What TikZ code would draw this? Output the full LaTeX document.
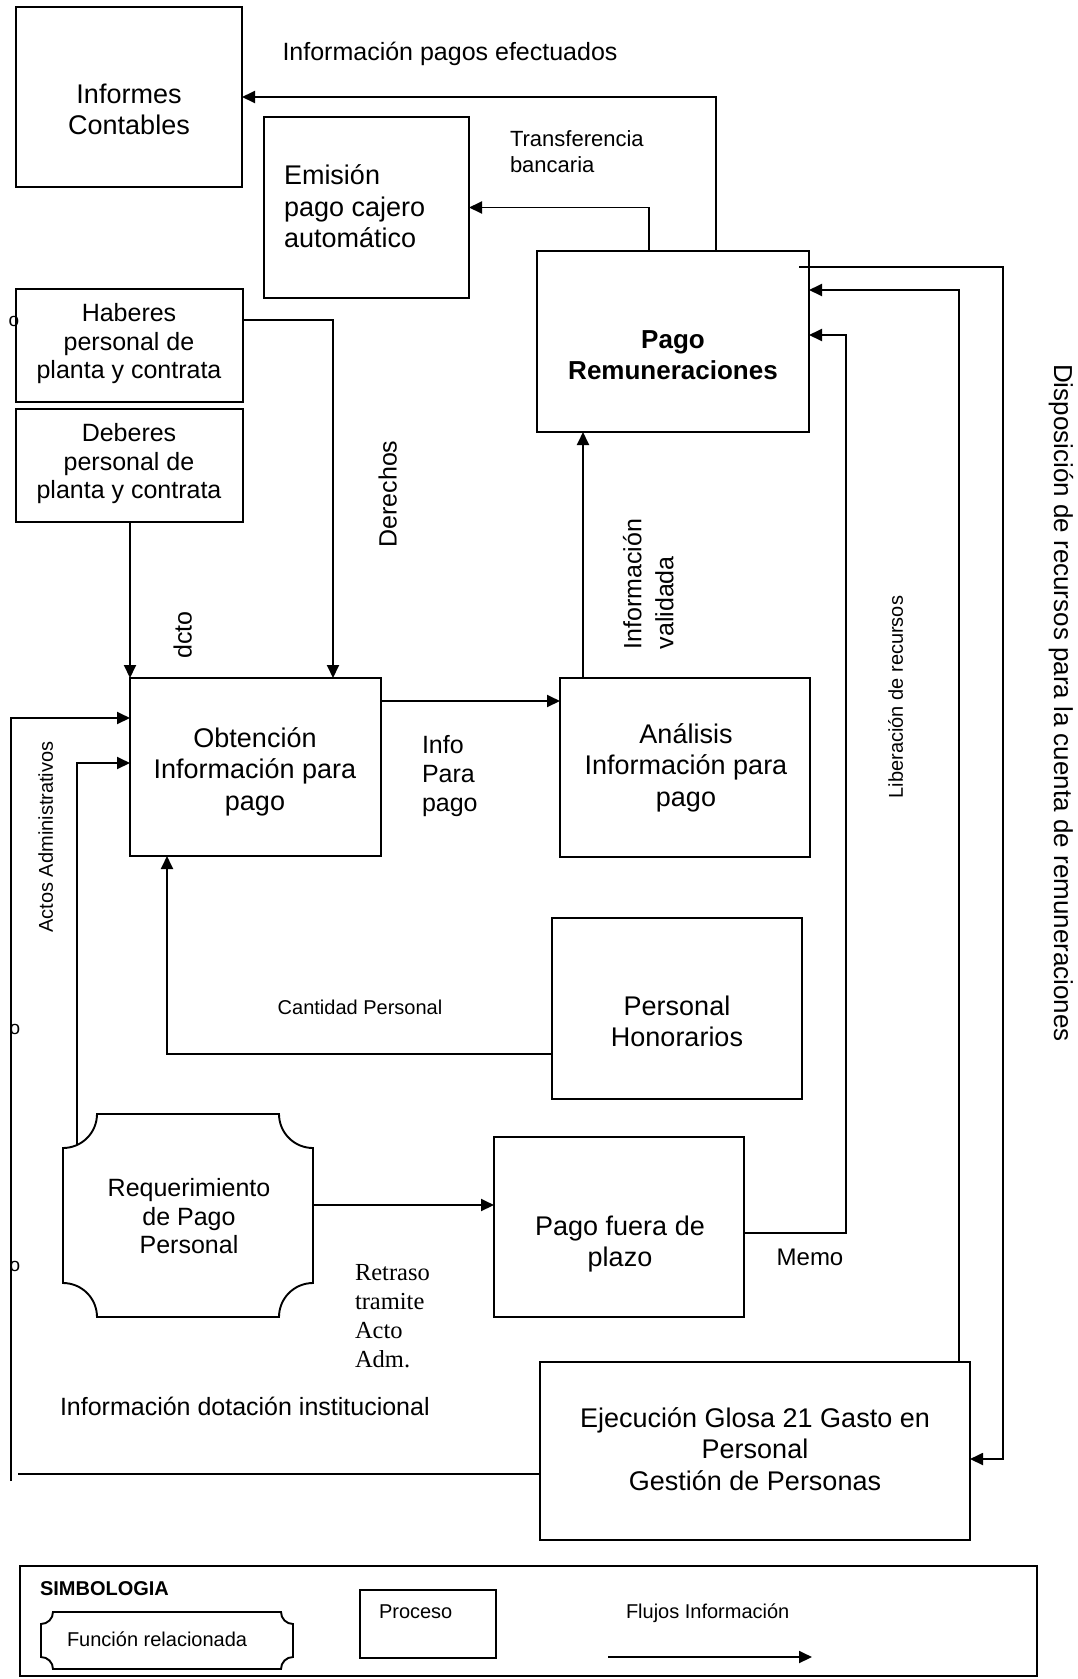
\documentclass[tikz,border=0pt]{standalone}
\usepackage{fontspec}
\setmainfont{Liberation Sans}
\newfontfamily\serifrm{Liberation Serif}
\usetikzlibrary{arrows.meta}

% outline with concave quarter-circle corners, drawn on the box of a node
\newcommand\funcoutline[2]{%
  \draw[flowline] ([xshift=#2]#1.north west) -- ([xshift=-#2]#1.north east)
    arc[start angle=180,end angle=270,radius=#2]
    -- ([yshift=#2]#1.south east)
    arc[start angle=90,end angle=180,radius=#2]
    -- ([xshift=#2]#1.south west)
    arc[start angle=0,end angle=90,radius=#2]
    -- ([yshift=-#2]#1.north west)
    arc[start angle=270,end angle=360,radius=#2]
    -- cycle;}

\tikzset{
  flowline/.style={line width=1.9pt, line join=miter},
  flowarrow/.style={flowline, -{Triangle[length=13pt,width=12pt]}},
  procbox/.style={draw, line width=1.9pt, inner sep=0pt, outer sep=0pt},
  ghostbox/.style={inner sep=0pt, outer sep=0pt},
  txt/.style={inner sep=0pt, outer sep=0pt, align=center,
    execute at begin node=\strut, execute at end node=\strut},
  fbig/.style={font=\fontsize{27}{31.5}\selectfont},
  fmed/.style={font=\fontsize{25}{28.5}\selectfont},
  fsmall/.style={font=\fontsize{20}{24}\selectfont},
  fmark/.style={font=\fontsize{19}{22}\selectfont},
}

\begin{document}
\begin{tikzpicture}[x=1pt,y=-1pt]
\useasboundingbox (0,0) rectangle (1077,1679);
\fill[white] (0,0) rectangle (1077,1679);

% ---------- boxes ----------
\node[procbox, minimum width=226pt, minimum height=180pt] (inf) at (129,97) {};
\node[procbox, minimum width=205pt, minimum height=181pt] (emi) at (366.5,207.5) {};
\node[procbox, minimum width=227pt, minimum height=113pt] (hab) at (129.5,345.5) {};
\node[procbox, minimum width=227pt, minimum height=113pt] (deb) at (129.5,465.5) {};
\node[procbox, minimum width=251pt, minimum height=178pt] (obt) at (255.5,767) {};
\node[procbox, minimum width=272pt, minimum height=181pt] (pag) at (673,341.5) {};
\node[procbox, minimum width=250pt, minimum height=179pt] (ana) at (685,767.5) {};
\node[procbox, minimum width=250pt, minimum height=181pt] (hon) at (677,1008.5) {};
\node[ghostbox, minimum width=250pt, minimum height=203pt] (req) at (188,1215.5) {};
\funcoutline{req}{34pt}
\node[procbox, minimum width=250pt, minimum height=180pt] (pfp) at (619,1227) {};
\node[procbox, minimum width=430pt, minimum height=178pt] (eje) at (755,1451) {};

% ---------- box texts ----------
\node[txt, fbig] (inf-t) at (129,114) {Informes\\Contables};
\node[txt, fbig, align=left, anchor=west] (emi-t) at (284,211) {Emisión\\pago cajero\\automático};
\node[txt, fmed] (hab-t) at (129,345.5) {Haberes\\personal de\\planta y contrata};
\node[txt, fmed] (deb-t) at (129,465.5) {Deberes\\personal de\\planta y contrata};
\node[txt, fbig] (obt-t) at (255,773.5) {Obtención\\Información para\\pago};
\node[txt, font={\fontsize{26}{31}\selectfont\bfseries}] (pag-t) at (673,359.5) {Pago\\Remuneraciones};
\node[txt, fbig] (ana-t) at (686,769.5) {Análisis\\Información para\\pago};
\node[txt, fbig] (hon-t) at (677,1026) {Personal\\Honorarios};
\node[txt, fmed] (req-t) at (189,1220.5) {Requerimiento\\de Pago\\Personal};
\node[txt, fbig] (pfp-t) at (620,1246) {Pago fuera de\\plazo};
\node[txt, fbig] (eje-t) at (755,1453.5) {Ejecución Glosa 21 Gasto en\\Personal\\Gestión de Personas};

% ---------- flows ----------
\draw[flowarrow] ([xshift=43pt]pag.north) |- (inf.east);
\draw[flowarrow] ([xshift=-24pt]pag.north) |- (emi.east);
\draw[flowarrow] ([yshift=25.5pt]hab.east) -| ([xshift=77.5pt]obt.north);
\draw[flowarrow] (obt.north west |- deb.south) -- (obt.north west);
\draw[flowarrow] ([yshift=66pt]obt.east) -- ([yshift=66pt]obt.east -| ana.west);
\draw[flowarrow] ([xshift=-102pt]ana.north) -- ([xshift=-102pt]ana.north |- pag.south);
\draw[flowarrow] ([yshift=-45.5pt]hon.west) -| ([xshift=-88.5pt]obt.south);
\draw[flowarrow] ([yshift=10.5pt]req.east) -- ([yshift=10.5pt]req.east -| pfp.west);
\coordinate (actos-start) at (77,1145);
\draw[flowarrow] (actos-start) |- ([yshift=4pt]obt.west);
\coordinate (dot-end) at (18,1474);
\draw[flowline] ([yshift=-23pt]eje.west) -- (dot-end);
\coordinate (dot-start) at (11,1481);
\draw[flowarrow] (dot-start) |- ([yshift=49pt]obt.west);
\draw[flowarrow] ([yshift=-6pt]pfp.east) -| ([xshift=37pt,yshift=6.5pt]pag.east) -- ([yshift=6.5pt]pag.east);
\draw[flowarrow] ([xshift=204pt]eje.north) |- ([yshift=51.5pt]pag.east);
\draw[flowarrow] ([xshift=-10pt,yshift=74.5pt]pag.east) -| ([xshift=33pt,yshift=-8pt]eje.east) -- ([yshift=-8pt]eje.east);

% ---------- flow labels ----------
\node[txt, fmed] (l-pagos) at (450,55) {Información pagos efectuados};
\node[txt, font=\fontsize{22}{26}\selectfont, align=left, anchor=west] (l-transf) at (510,155) {Transferencia\\bancaria};
\node[txt, fmed, rotate=90] (l-derechos) at (391,494) {Derechos};
\node[txt, fmed, rotate=90] (l-dcto) at (186,635) {dcto};
\node[txt, font=\fontsize{25}{29}\selectfont, align=left, anchor=west] (l-info) at (422,778) {Info\\Para\\pago};
\node[txt, font=\fontsize{25}{32}\selectfont, align=left, rotate=90] (l-valid) at (653,584) {Información\\validada};
\node[txt, fsmall, rotate=90] (l-liber) at (898,697) {Liberación de recursos};
\node[txt, font=\fontsize{26}{30}\selectfont, rotate=-90] (l-dispo) at (1060,703) {Disposición de recursos para la cuenta de remuneraciones};
\node[txt, fsmall, rotate=90] (l-actos) at (48,837) {Actos Administrativos};
\node[txt, fsmall] (l-cant) at (360,1010) {Cantidad Personal};
\node[txt, font=\fontsize{24}{28}\selectfont] (l-memo) at (810,1260) {Memo};
\node[txt, font=\fontsize{24.5}{29}\serifrm\selectfont, align=left, anchor=west] (l-retraso) at (355,1320) {Retraso\\tramite\\Acto\\Adm.};
\node[txt, fmed, anchor=west] (l-dot) at (60,1410) {Información dotación institucional};

% small marks on the left margin
\node[txt, fmark] (m1) at (14,322) {o};
\node[txt, fmark] (m2) at (15,1030) {o};
\node[txt, fmark] (m3) at (15,1267) {o};

% ---------- legend ----------
\node[procbox, minimum width=1017pt, minimum height=110pt] (leg) at (528.5,1621) {};
\node[txt, font={\fontsize{20}{24}\selectfont\bfseries}, anchor=west] (leg-title) at (40,1591) {SIMBOLOGIA};
\node[ghostbox, minimum width=252pt, minimum height=57pt] (legfun) at (167,1640.5) {};
\funcoutline{legfun}{12pt}
\node[txt, fsmall, anchor=west] (legfun-t) at (67,1642) {Función relacionada};
\node[procbox, minimum width=136pt, minimum height=68pt] (legproc) at (428,1624) {};
\node[txt, fsmall, anchor=west] (legproc-t) at (379,1614) {Proceso};
\node[txt, fsmall, anchor=west] (legflow-t) at (626,1614) {Flujos Información};
\coordinate (legflow-a) at (608,1657);
\coordinate (legflow-b) at (812,1657);
\draw[flowarrow] (legflow-a) -- (legflow-b);
\end{tikzpicture}
\end{document}
